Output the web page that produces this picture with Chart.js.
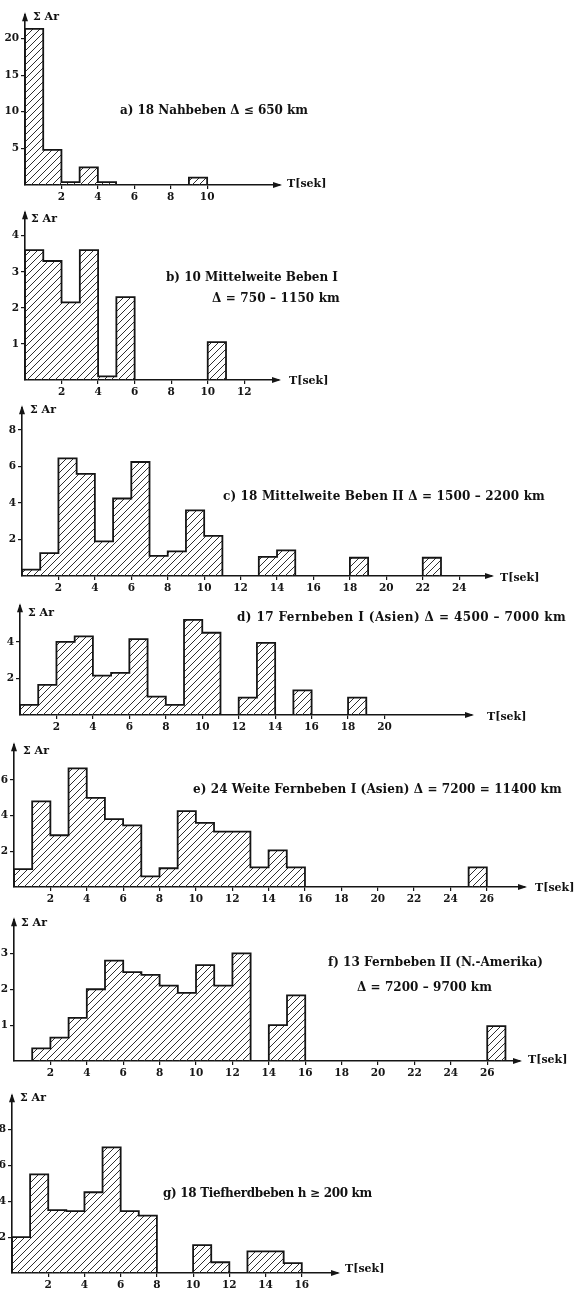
<!DOCTYPE html>
<html>
<head>
<meta charset="utf-8">
<script src="https://cdn.jsdelivr.net/npm/chart.js@4.4.1/dist/chart.umd.min.js"></script>
<style>
  html, body { margin: 0; padding: 0; background: #fff; }
  body {
    position: relative; width: 575px; height: 1289px; overflow: hidden;
    font-family: "DejaVu Serif", "Liberation Serif", serif; font-weight: bold; color: #111;
  }
  canvas { position: absolute; left: 0; }
  .lbl { position: absolute; white-space: nowrap; line-height: 1; transform: translateY(-50%); }
  .cap { font-size: 12px; }
  .ax { font-size: 11px; }
</style>
</head>
<body>
<script>
/* Values per 1 s period bin, starting at T = 0 */

const aValues = [21.3, 4.8, 0.4, 2.4, 0.4, 0, 0, 0, 0, 1.0];
const bValues = [3.6, 3.3, 2.15, 3.6, 0.1, 2.3, 0, 0, 0, 0, 1.05];
const cValues = [0.35, 1.25, 6.45, 5.6, 1.9, 4.25, 6.25, 1.1, 1.35, 3.6, 2.2, 0, 0, 1.05, 1.4, 0, 0, 0, 1.0, 0, 0, 0, 1.0];
const dValues = [0.55, 1.65, 4.0, 4.3, 2.15, 2.3, 4.15, 1.0, 0.55, 5.2, 4.5, 0, 0.95, 3.95, 0, 1.35, 0, 0, 0.95];
const eValues = [1.0, 4.8, 2.9, 6.65, 5.0, 3.8, 3.45, 0.6, 1.05, 4.25, 3.6, 3.1, 3.1, 1.1, 2.05, 1.1, 0, 0, 0, 0, 0, 0, 0, 0, 0, 1.1];
const fValues = [0, 0.35, 0.65, 1.2, 2.0, 2.8, 2.48, 2.4, 2.1, 1.9, 2.67, 2.1, 3.0, 0, 1.0, 1.83, 0, 0, 0, 0, 0, 0, 0, 0, 0, 0, 0.97];
const gValues = [2.0, 5.5, 3.5, 3.45, 4.5, 7.0, 3.45, 3.2, 0, 0, 1.55, 0.6, 0, 1.2, 1.2, 0.55];

/* Tick labels */

const aXTicks = [2, 4, 6, 8, 10];
const bXTicks = [2, 4, 6, 8, 10, 12];
const cXTicks = [2, 4, 6, 8, 10, 12, 14, 16, 18, 20, 22, 24];
const dXTicks = [2, 4, 6, 8, 10, 12, 14, 16, 18, 20];
const eXTicks = [2, 4, 6, 8, 10, 12, 14, 16, 18, 20, 22, 24, 26];
const fXTicks = [2, 4, 6, 8, 10, 12, 14, 16, 18, 20, 22, 24, 26];
const gXTicks = [2, 4, 6, 8, 10, 12, 14, 16];

const aYTicks = [5, 10, 15, 20];
const bYTicks = [1, 2, 3, 4];
const cYTicks = [2, 4, 6, 8];
const dYTicks = [2, 4];
const eYTicks = [2, 4, 6];
const fYTicks = [1, 2, 3];
const gYTicks = [2, 4, 6, 8];

/* Captions */

const captionA = ["a) 18 Nahbeben Δ ≤ 650 km"];
const captionB = ["b) 10 Mittelweite Beben I", "Δ = 750 – 1150 km"];
const captionC = ["c) 18 Mittelweite Beben II Δ = 1500 – 2200 km"];
const captionD = ["d) 17 Fernbeben I (Asien) Δ = 4500 – 7000 km"];
const captionE = ["e) 24 Weite Fernbeben I (Asien) Δ = 7200 = 11400 km"];
const captionF = ["f) 13 Fernbeben II (N.-Amerika)", "Δ = 7200 – 9700 km"];
const captionG = ["g) 18 Tiefherdbeben h ≥ 200 km"];

const yAxisName = "Σ Ar";
const xAxisName = "T[sek]";

/* Layout of each panel (pixels); capPos = [left, right, centre y] */

const panels = [
    { values: aValues, xTicks: aXTicks, yTicks: aYTicks, caption: captionA, capPos: [[120, 308, 110]],
      xMax: 14, yMax: 23.3, axisX: 25, rightX: 280, tipY: 10, baseY: 185, yName: [33, 16], xName: [287, 183] },
    { values: bValues, xTicks: bXTicks, yTicks: bYTicks, caption: captionB, capPos: [[166, 338, 277], [212, 340, 298]],
      xMax: 13.9, yMax: 4.65, axisX: 25, rightX: 279, tipY: 208, baseY: 380, yName: [31, 218], xName: [289, 380] },
    { values: cValues, xTicks: cXTicks, yTicks: cYTicks, caption: captionC, capPos: [[223, 545, 496]],
      xMax: 25.8, yMax: 9.25, axisX: 22, rightX: 492, tipY: 403, baseY: 576, yName: [30, 409], xName: [500, 577] },
    { values: dValues, xTicks: dXTicks, yTicks: dYTicks, caption: captionD, capPos: [[237, 566, 617]],
      xMax: 24.8, yMax: 6.0, axisX: 20, rightX: 472, tipY: 601, baseY: 715, yName: [28, 612], xName: [487, 716] },
    { values: eValues, xTicks: eXTicks, yTicks: eYTicks, caption: captionE, capPos: [[193, 562, 789]],
      xMax: 28.1, yMax: 8.0, axisX: 14, rightX: 525, tipY: 740, baseY: 887, yName: [23, 750], xName: [535, 887] },
    { values: fValues, xTicks: fXTicks, yTicks: fYTicks, caption: captionF, capPos: [[328, 543, 962], [357, 492, 987]],
      xMax: 27.8, yMax: 3.95, axisX: 14, rightX: 520, tipY: 915, baseY: 1061, yName: [21, 922], xName: [528, 1059] },
    { values: gValues, xTicks: gXTicks, yTicks: gYTicks, caption: captionG, capPos: [[163, 372, 1193]],
      xMax: 18, yMax: 9.9, axisX: 12, rightX: 338, tipY: 1091, baseY: 1273, yName: [20, 1097], xName: [345, 1268] }
];

const ink = "#151515";
const tickFont = { family: "DejaVu Serif", size: 10.5, weight: "bold" };

/* Arrow heads on both axes */

const axisArrows = {
    id: "axisArrows",
    afterDraw(chart) {
        const { ctx, chartArea: { left, right, top, bottom } } = chart;
        ctx.save();
        ctx.fillStyle = ink;
        ctx.beginPath();
        ctx.moveTo(right + 2, bottom);
        ctx.lineTo(right - 7, bottom - 3);
        ctx.lineTo(right - 7, bottom + 3);
        ctx.closePath();
        ctx.fill();
        ctx.beginPath();
        ctx.moveTo(left, top - 2);
        ctx.lineTo(left - 3, top + 7);
        ctx.lineTo(left + 3, top + 7);
        ctx.closePath();
        ctx.fill();
        ctx.restore();
    }
};

function hatchPattern(ctx) {
    const tile = document.createElement("canvas");
    tile.width = 7;
    tile.height = 7;
    const g = tile.getContext("2d");
    g.strokeStyle = "#303030";
    g.lineWidth = 1;
    g.beginPath();
    g.moveTo(0, 7); g.lineTo(7, 0);
    g.moveTo(-1, 1); g.lineTo(1, -1);
    g.moveTo(6, 8); g.lineTo(8, 6);
    g.stroke();
    return ctx.createPattern(tile, "repeat");
}

function addLabel(text, x, y, cls, right) {
    const el = document.createElement("div");
    el.className = "lbl " + cls;
    el.style.left = x + "px";
    el.style.top = y + "px";
    el.textContent = text;
    document.body.appendChild(el);
    // spread the caption letters to reach the printed width
    if (right) {
        const w = el.getBoundingClientRect().width;
        el.style.letterSpacing = ((right - x - w) / text.length).toFixed(2) + "px";
    }
}

/* Draw panels */

panels.forEach(p => {
    const top = p.tipY - 4;
    const height = p.baseY - top + 22;

    const canvas = document.createElement("canvas");
    canvas.width = 575;
    canvas.height = height;
    canvas.style.top = top + "px";
    document.body.appendChild(canvas);

    // step outline: each bin value holds from T = i to T = i + 1
    const points = [{ x: 0, y: 0 }]
        .concat(p.values.map((v, i) => ({ x: i, y: v })))
        .concat([{ x: p.values.length, y: 0 }]);

    new Chart(canvas, {
        type: "line",
        data: {
            datasets: [
                {
                    data: points,
                    stepped: "before",
                    borderColor: ink,
                    borderWidth: 1.8,
                    backgroundColor: hatchPattern(canvas.getContext("2d")),
                    fill: "origin",
                    pointRadius: 0,
                    tension: 0
                }
            ]
        },
        options: {
            responsive: false,
            animation: false,
            layout: { padding: { left: 0, right: 575 - p.rightX, top: 4, bottom: 2 } },
            plugins: {
                legend: { display: false },
                tooltip: { enabled: false }
            },
            scales: {
                x: {
                    type: "linear",
                    min: 0,
                    max: p.xMax,
                    afterBuildTicks: s => { s.ticks = p.xTicks.map(v => ({ value: v })); },
                    afterFit: s => { s.height = 20; },
                    grid: { drawOnChartArea: false, tickLength: 4, tickColor: ink, lineWidth: 1.2 },
                    border: { display: true, color: ink, width: 1.6 },
                    ticks: { color: ink, font: tickFont, padding: 2, maxRotation: 0, autoSkip: false }
                },
                y: {
                    min: 0,
                    max: p.yMax,
                    afterBuildTicks: s => { s.ticks = p.yTicks.map(v => ({ value: v })); },
                    afterFit: s => { s.width = p.axisX; },
                    grid: { drawOnChartArea: false, tickLength: 4, tickColor: ink, lineWidth: 1.2 },
                    border: { display: true, color: ink, width: 1.6 },
                    ticks: { color: ink, font: tickFont, padding: 2, autoSkip: false }
                }
            }
        },
        plugins: [axisArrows]
    });

    p.caption.forEach((line, i) => addLabel(line, p.capPos[i][0], p.capPos[i][2], "cap", p.capPos[i][1]));
    addLabel(yAxisName, p.yName[0], p.yName[1], "ax");
    addLabel(xAxisName, p.xName[0], p.xName[1], "ax");
});
</script>
</body>
</html>
